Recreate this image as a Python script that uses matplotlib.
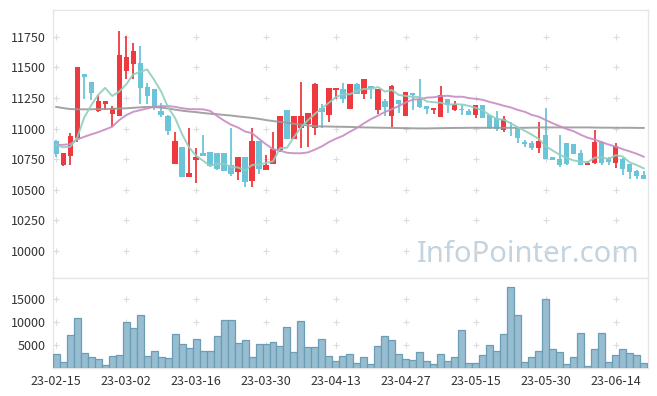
import matplotlib
matplotlib.use('Agg')
import matplotlib.pyplot as plt
import numpy as np
import pandas as pd

plt.rcParams['font.family'] = ['Noto Sans CJK KR', 'DejaVu Sans']

# trading days (KRX holidays removed)
holidays = ['2023-03-01', '2023-05-01', '2023-05-05', '2023-05-29', '2023-06-06']
dates = pd.bdate_range('2023-02-15', '2023-06-20', freq='C', holidays=holidays)

opens = [10897, 10707, 10778, 10925, 11445, 11380, 11143, 11203, 11121, 11105,
         11472, 11529, 11538, 11337, 11323, 11143, 11105, 10712, 10851, 10606,
         10743, 10800, 10808, 10800, 10800, 10704, 10645, 10767, 10574, 10898,
         10664, 10712, 10824, 11151, 10917, 11007, 11034, 11007, 11170, 11113,
         11315, 11323, 11162, 11364, 11284, 11347, 11154, 11225, 11105, 11230,
         11105, 11288, 11243, 11184, 11154, 11097, 11241, 11154, 11159, 11143,
         11110, 11190, 11113, 11088, 10993, 11056, 11007, 10887, 10879, 10838,
         10947, 10767, 10748, 10879, 10873, 10797, 10707, 10716, 10890, 10761,
         10721, 10756, 10710, 10653, 10620]
highs = [10906, 10802, 10966, 11505, 11450, 11385, 11274, 11225, 11184, 11797,
         11756, 11696, 11674, 11369, 11325, 11206, 11108, 10969, 10853, 11002,
         10838, 10947, 10810, 10802, 10802, 11002, 10767, 10770, 11002, 10900,
         10783, 10969, 11102, 11153, 11102, 11377, 11124, 11374, 11198, 11331,
         11335, 11369, 11366, 11372, 11404, 11350, 11325, 11239, 11355, 11232,
         11300, 11292, 11402, 11186, 11172, 11347, 11245, 11227, 11192, 11157,
         11195, 11192, 11115, 11143, 11100, 11058, 11010, 10906, 10895, 11051,
         11165, 10770, 10947, 10882, 10875, 10824, 10737, 10988, 10895, 10765,
         10884, 10760, 10712, 10660, 10653]
lows = [10770, 10696, 10707, 10887, 11239, 11235, 11140, 11151, 11015, 11100,
        11404, 11404, 11198, 11198, 11151, 11097, 10947, 10710, 10604, 10604,
        10560, 10776, 10690, 10665, 10650, 10614, 10577, 10522, 10524, 10628,
        10660, 10710, 10810, 10915, 10912, 10838, 10851, 10947, 11007, 11051,
        11239, 11206, 11160, 11280, 11241, 11243, 11116, 11105, 11015, 11124,
        11100, 11149, 11170, 11116, 11116, 11095, 11124, 11143, 11108, 11108,
        11091, 11085, 11000, 10982, 10974, 10939, 10879, 10851, 10824, 10802,
        10749, 10745, 10688, 10700, 10790, 10700, 10705, 10712, 10699, 10700,
        10680, 10620, 10585, 10587, 10585]
closes = [10789, 10797, 10939, 11500, 11423, 11292, 11225, 11225, 11170, 11600,
          11584, 11633, 11333, 11268, 11178, 11110, 10982, 10898, 10606, 10639,
          10770, 10778, 10696, 10669, 10653, 10631, 10767, 10565, 10898, 10667,
          10702, 10832, 11102, 10917, 11102, 11102, 11124, 11364, 11137, 11331,
          11331, 11241, 11364, 11283, 11402, 11331, 11320, 11178, 11345, 11198,
          11296, 11274, 11178, 11162, 11170, 11274, 11194, 11200, 11149, 11113,
          11190, 11088, 11007, 10998, 11075, 11051, 10920, 10871, 10838, 10898,
          10751, 10745, 10702, 10710, 10792, 10702, 10721, 10890, 10721, 10724,
          10860, 10667, 10647, 10614, 10590]
volumes = [3000, 1285, 7280, 10920, 3210, 2360, 1930, 640, 2570, 2785,
           10070, 8780, 11570, 2570, 3640, 2360, 2140, 7500, 5140, 4280,
           6430, 3640, 3640, 7070, 10500, 10500, 5355, 6000, 2360, 5140,
           5140, 5780, 4710, 9000, 3430, 10280, 4500, 4500, 6430, 2570,
           1570, 2570, 3000, 1070, 2360, 860, 4710, 7070, 6000, 3000,
           1930, 1710, 3430, 1500, 860, 3000, 1500, 2360, 8350, 1070,
           1070, 2785, 4930, 3640, 7500, 17560, 11570, 1285, 2360, 3640,
           15000, 4070, 3430, 860, 2360, 7710, 430, 4070, 7710, 1285,
           2785, 4070, 3210, 2785, 1070]

# moving-average values before enough history exists
ma5_head = [10865, 10848, 10851, 10925]
ma20_head = [10865, 10868, 10873, 10912, 10933, 10953, 10971, 10993, 11015, 11069,
             11110, 11137, 11151, 11165, 11178, 11184, 11184, 11178, 11167]
ma_long = [11178, 11168, 11160, 11158, 11158, 11158, 11160, 11160, 11162, 11164,
           11166, 11170, 11174, 11178, 11176, 11172, 11165, 11155, 11147, 11140,
           11135, 11128, 11122, 11118, 11112, 11107, 11100, 11094, 11088, 11080,
           11070, 11062, 11055, 11048, 11040, 11033, 11025, 11020, 11018, 11017,
           11016, 11015, 11014, 11012, 11010, 11009, 11008, 11007, 11006, 11005,
           11004, 11003, 11002, 11002, 11003, 11004, 11005, 11006, 11006, 11007,
           11007, 11007, 11007, 11007, 11007, 11007, 11007, 11007, 11008, 11009,
           11010, 11010, 11010, 11010, 11010, 11010, 11010, 11009, 11008, 11008,
           11007, 11007, 11007, 11006, 11006]

up_color = '#ee3a3f'
down_color = '#6cc4d9'
frame_color = '#e6e6e6'
text_color = '#333333'

x = np.arange(len(dates))
o = np.array(opens); h = np.array(highs); l = np.array(lows); c = np.array(closes)
cs = pd.Series(closes)
ma5 = cs.rolling(5).mean().values
ma5[:len(ma5_head)] = ma5_head
ma20 = cs.rolling(20).mean().values
ma20[:len(ma20_head)] = ma20_head

fig = plt.figure(figsize=(6.57, 3.96), dpi=100)
ax1 = fig.add_axes([0.0807, 0.298, 0.906, 0.677])
ax2 = fig.add_axes([0.0807, 0.070, 0.906, 0.228])

colors = [up_color if cc >= oo else down_color for oo, cc in zip(o, c)]
ax1.vlines(x, l, h, colors=colors, linewidth=1.3, zorder=2)
body_bot = np.minimum(o, c)
body_h = np.maximum(np.abs(c - o), 6)
ax1.bar(x, body_h, bottom=body_bot, width=0.74, color=colors, zorder=3)

ax1.plot(x, ma_long, color='#999999', linewidth=1.4, alpha=0.9, zorder=4)
ax1.plot(x, ma20, color='#c98cc3', linewidth=1.4, alpha=0.9, zorder=4)
ax1.plot(x, ma5, color='#8fcfbf', linewidth=1.4, alpha=0.9, zorder=4)

ax1.set_xlim(-0.45, 84.65)
ax1.set_ylim(9780, 11970)
price_ticks = np.arange(10000, 11751, 250)
ax1.set_yticks(price_ticks)
ax1.set_xticks(x[::10])
ax1.set_xticklabels([])

ax2.bar(x, volumes, width=1.0, color='#97bdd0', edgecolor='#6b9db4', linewidth=0.9, zorder=3)
ax2.set_xlim(-0.45, 84.65)
ax2.set_ylim(0, 19500)
vol_ticks = [5000, 10000, 15000]
ax2.set_yticks(vol_ticks)
ax2.set_xticks(x[::10])
ax2.set_xticklabels(dates[::10].strftime('%y-%m-%d'))

for ax, yt in ((ax1, price_ticks), (ax2, vol_ticks)):
    gx, gy = np.meshgrid(x[::10], yt)
    ax.scatter(gx.ravel(), gy.ravel(), marker='+', s=22, color='#dcdcdc', linewidths=0.8, zorder=1)
    for s in ax.spines.values():
        s.set_color(frame_color)
        s.set_linewidth(1.0)
    ax.tick_params(length=0, labelsize=9, colors=text_color, pad=5)

ax1.text(0.986, 0.086, 'InfoPointer.com', transform=ax1.transAxes, ha='right', va='center',
         fontsize=21, color='#c3d3df', family=['Noto Sans', 'DejaVu Sans'], zorder=0)

fig.savefig('out.png', dpi=100)
